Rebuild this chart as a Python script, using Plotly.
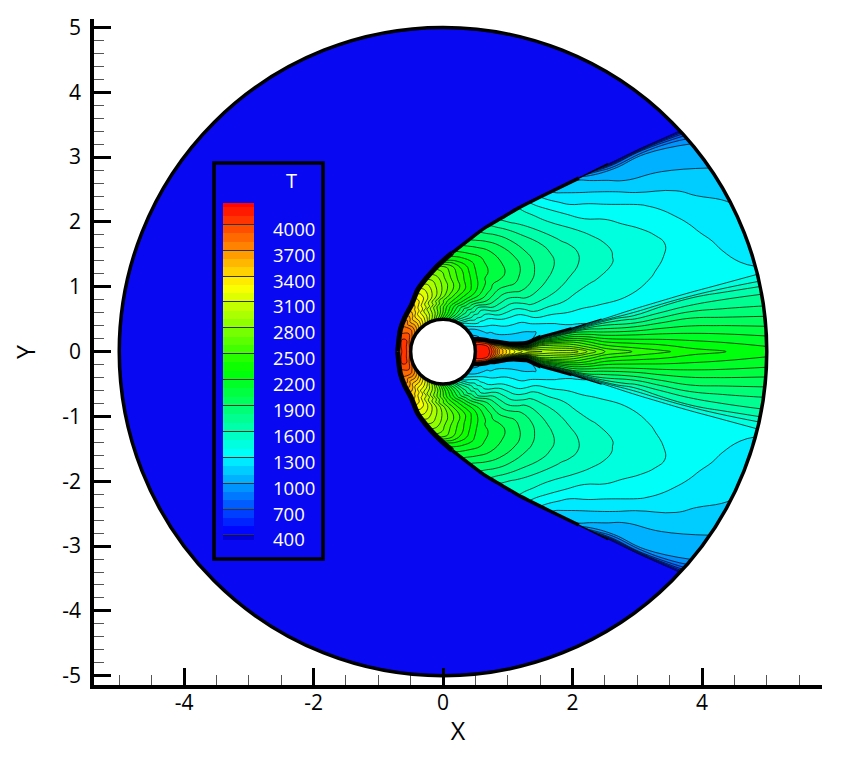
import math
import plotly.graph_objects as go

# Field, upper half, mirrored about the axis.
r_stations = [0.5, 0.6, 0.7, 0.74, 0.79, 0.87, 1.03, 1.15, 1.3, 1.42, 1.53, 1.78, 2.02, 2.25, 2.5, 3.0, 3.4, 3.86, 4.37, 5.0]
theta_wake = [23, 19, 15, 13, 12, 10, 7, 6.2, 6, 7.5, 8.7, 9.6, 10.3, 11, 11.6, 12.5, 13, 13.4, 13.6, 13.8]
theta_bow = [180, 180, 180, 153, 138.6, 124, 112.3, 103.6, 95, 89.2, 84.7, 76.7, 71.2, 66.3, 62.3, 55.7, 51.9, 48.7, 45.9, 43]
core_fracs = [0, 0.2, 0.4, 0.6, 0.8, 0.9, 0.95]
lobe_fracs = [0, 0.02, 0.05, 0.1, 0.2, 0.275, 0.35, 0.425, 0.5, 0.575, 0.65, 0.8, 0.9, 0.95, 0.98, 1]

T_core = [
    [4150, 4140, 4120, 4080, 3950, 3300, 2300],
    [4180, 4160, 4130, 4090, 3900, 3200, 2200],
    [4150, 4130, 4100, 4050, 3800, 3000, 2000],
    [4050, 4030, 4000, 3950, 3600, 2900, 1900],
    [3900, 3880, 3820, 3700, 3200, 2600, 1800],
    [3600, 3600, 3500, 3300, 2900, 2300, 1700],
    [3300, 3300, 3150, 2900, 2400, 1900, 1500],
    [3150, 3100, 2900, 2550, 2100, 1700, 1420],
    [3050, 2950, 2700, 2300, 1850, 1550, 1350],
    [3020, 2900, 2700, 2350, 1930, 1620, 1400],
    [3000, 2850, 2700, 2400, 2000, 1700, 1450],
    [2950, 2780, 2600, 2320, 2000, 1700, 1470],
    [2950, 2700, 2500, 2250, 2000, 1700, 1500],
    [2780, 2550, 2350, 2120, 1900, 1680, 1500],
    [2600, 2400, 2200, 2000, 1800, 1650, 1500],
    [2480, 2290, 2095, 1885, 1670, 1540, 1465],
    [2420, 2240, 2060, 1880, 1680, 1590, 1470],
    [2340, 2190, 2030, 1880, 1690, 1620, 1470],
    [2300, 2150, 1990, 1830, 1680, 1580, 1460],
    [2250, 2100, 1940, 1790, 1660, 1510, 1450],
]
T_lobe = [
    [1100, 1100, 1100, 1150, 1320, 1620, 1950, 2300, 2650, 2950, 3250, 3700, 3800, 3850, 3870, 3880],
    [1100, 1100, 1120, 1200, 1480, 1780, 2100, 2420, 2750, 3030, 3300, 3850, 4030, 4060, 4070, 4070],
    [1150, 1150, 1170, 1260, 1560, 1820, 2100, 2400, 2700, 2980, 3250, 3800, 3980, 3950, 3900, 3880],
    [1150, 1170, 1180, 1230, 1430, 1630, 1850, 2120, 2400, 2680, 2950, 3400, 3700, 3780, 3830, 3850],
    [1150, 1170, 1170, 1220, 1400, 1590, 1800, 2050, 2300, 2500, 2700, 3150, 3450, 3550, 3600, 3620],
    [1200, 1180, 1180, 1230, 1350, 1490, 1650, 1930, 2200, 2400, 2600, 3000, 3250, 3350, 3400, 3400],
    [1200, 1170, 1170, 1230, 1380, 1560, 1750, 1960, 2150, 2340, 2500, 2800, 3000, 3080, 3100, 3100],
    [1200, 1170, 1160, 1225, 1365, 1530, 1700, 1880, 2050, 2200, 2330, 2600, 2800, 2860, 2880, 2880],
    [1200, 1170, 1150, 1220, 1350, 1500, 1650, 1810, 1950, 2060, 2150, 2400, 2580, 2640, 2660, 2650],
    [1230, 1200, 1185, 1260, 1420, 1560, 1700, 1840, 1950, 2040, 2100, 2230, 2280, 2280, 2270, 2270],
    [1250, 1230, 1220, 1300, 1500, 1630, 1750, 1860, 1950, 2010, 2050, 2130, 2130, 2130, 2130, 2130],
    [1250, 1255, 1280, 1340, 1500, 1610, 1700, 1790, 1850, 1900, 1930, 1950, 1930, 1910, 1900, 1900],
    [1250, 1290, 1340, 1380, 1500, 1580, 1650, 1710, 1750, 1780, 1790, 1790, 1770, 1750, 1745, 1740],
    [1300, 1320, 1350, 1390, 1470, 1540, 1600, 1650, 1690, 1700, 1700, 1650, 1610, 1590, 1580, 1570],
    [1350, 1360, 1370, 1400, 1450, 1510, 1560, 1600, 1620, 1615, 1590, 1530, 1510, 1500, 1500, 1500],
    [1400, 1360, 1380, 1400, 1430, 1470, 1495, 1505, 1500, 1475, 1440, 1340, 1260, 1220, 1200, 1190],
    [1400, 1360, 1360, 1380, 1410, 1430, 1440, 1440, 1425, 1400, 1370, 1260, 1160, 1120, 1100, 1080],
    [1400, 1360, 1340, 1345, 1365, 1385, 1395, 1385, 1365, 1330, 1290, 1140, 1050, 1000, 780, 400],
    [1400, 1345, 1325, 1320, 1318, 1312, 1300, 1280, 1250, 1225, 1200, 1100, 1040, 1000, 800, 400],
    [1400, 1330, 1300, 1290, 1265, 1250, 1230, 1210, 1190, 1155, 1120, 1070, 995, 850, 650, 400],
]
legend_labels = [4000, 3700, 3400, 3100, 2800, 2500, 2200, 1900, 1600, 1300, 1000, 700, 400]
x_ticks = [-4, -2, 0, 2, 4]
y_ticks = [-5, -4, -3, -2, -1, 0, 1, 2, 3, 4, 5]

COLORS = [[0, "#0000c8"], [0.02, "#0000ff"], [0.25, "#00ffff"], [0.5, "#00ff00"], [0.75, "#ffff00"], [1, "#ff0000"]]
BG = "#0808f2"
FONT = "Open Sans"

# body-fitted polar grid
thetas, temps = [], []
for i in range(len(r_stations)):
    up_t = [f * theta_wake[i] for f in core_fracs] + [theta_wake[i] + e * (theta_bow[i] - theta_wake[i]) for e in lobe_fracs]
    up_v = T_core[i] + T_lobe[i]
    thetas.append([-t for t in up_t[:0:-1]] + up_t)
    temps.append(up_v[:0:-1] + up_v)
n_b = len(thetas[0])
n_a = len(r_stations)
gx = [[r_stations[i] * math.cos(math.radians(thetas[i][j])) for i in range(n_a)] for j in range(n_b)]
gy = [[r_stations[i] * math.sin(math.radians(thetas[i][j])) for i in range(n_a)] for j in range(n_b)]
gz = [[temps[i][j] for i in range(n_a)] for j in range(n_b)]

fig = go.Figure()
hidden_axis = dict(showgrid=False, showticklabels="none", showline=False, startline=False, endline=False,
                   minorgridcount=0, smoothing=0)
fig.add_trace(go.Carpet(carpet="field", a=list(range(n_a)), b=list(range(n_b)), x=gx, y=gy,
                        aaxis=hidden_axis, baxis=hidden_axis))
fig.add_trace(go.Contourcarpet(carpet="field", a=list(range(n_a)), b=list(range(n_b)), z=gz,
                               autocontour=False,
                               contours=dict(start=400, end=4200, size=100, coloring="fill", showlines=True),
                               line=dict(color="black", width=0.7, smoothing=1.3), colorscale=COLORS, showscale=False))

def polar_line(rs, ts, sign):
    return ([r * math.cos(math.radians(t)) for r, t in zip(rs, ts)],
            [sign * r * math.sin(math.radians(t)) for r, t in zip(rs, ts)])

def band(rs, ts, sign, width):
    bx, by = polar_line(rs, ts, sign)
    fig.add_trace(go.Scatter(x=bx, y=by, mode="lines", line=dict(color="black", width=width, shape="spline", smoothing=0.7),
                             hoverinfo="skip", showlegend=False))

for sign in (1, -1):
    band(r_stations[2:11], theta_bow[2:11], sign, 5)
    band(r_stations[10:17], theta_bow[10:17], sign, 3.5)
    band(r_stations[16:18], theta_bow[16:18], sign, 1.5)
    band(r_stations[0:11], theta_wake[0:11], sign, 4)
    band(r_stations[10:13], theta_wake[10:13], sign, 2.5)
    band(r_stations[12:15], theta_wake[12:15], sign, 1.2)

# legend bar in its own small axes
edges = [342] + list(range(400, 4201, 100)) + [4247]
mids = [(a + b) / 2 for a, b in zip(edges[:-1], edges[1:])]
fig.add_trace(go.Heatmap(x=[0, 1], y=edges, z=[[m] for m in mids], zmin=350, zmax=4250, colorscale=COLORS,
                         showscale=False, xaxis="x2", yaxis="y2", hoverinfo="skip"))

L, B, PW, PH = 94, 685, 728.0, 666.0
annotations = [dict(text=str(v), x=(271 - L) / PW, xref="paper", y=v, yref="y2", xanchor="left", yshift=-4,
                    showarrow=False, font=dict(family=FONT, size=18.5, color="white")) for v in legend_labels]
annotations.append(dict(text="T", x=(291 - L) / PW, xref="paper", y=(B - 181) / PH, yref="paper",
                        xanchor="center", yanchor="middle",
                        showarrow=False, font=dict(family=FONT, size=20, color="white")))

fig.update_layout(
    width=842, height=753, autosize=False,
    margin=dict(l=86, r=28, t=11, b=76, pad=0),
    paper_bgcolor="white", plot_bgcolor="white", showlegend=False,
    font=dict(family=FONT, size=21, color="black"),
    xaxis=dict(range=[-5.39, 5.853], showgrid=False, zeroline=False, showline=True, linecolor="black", linewidth=3.5,
               tickmode="array", tickvals=x_ticks, ticktext=[str(v) for v in x_ticks], ticks="inside", ticklen=17,
               tickwidth=3, tickcolor="black", ticklabelstandoff=-4, automargin="bottom",
               minor=dict(ticks="inside", ticklen=10, tickwidth=1.2, tickcolor="#555555", dtick=0.5, tick0=0),
               title=dict(text="X", font=dict(size=25, family=FONT), standoff=9)),
    yaxis=dict(range=[-5.143, 5.131], showgrid=False, zeroline=False, showline=True, linecolor="black", linewidth=3.5,
               tickmode="array", tickvals=y_ticks, ticktext=[str(v) for v in y_ticks], ticks="inside", ticklen=17,
               tickwidth=3, tickcolor="black", ticklabelstandoff=5, automargin="left",
               minor=dict(ticks="inside", ticklen=10, tickwidth=1.2, tickcolor="#555555", dtick=0.2, tick0=0),
               title=dict(text="Y", font=dict(size=25, family=FONT), standoff=23)),
    xaxis2=dict(domain=[(223 - L) / PW, (254 - L) / PW], range=[0, 1], anchor="y2", visible=False, fixedrange=True),
    yaxis2=dict(domain=[(B - 540) / PH, (B - 203) / PH], range=[342, 4247], anchor="x2", fixedrange=True,
                showgrid=False, zeroline=False, showline=False, showticklabels=False, tickmode="array",
                tickvals=legend_labels, ticks="inside", ticklen=31, tickwidth=1, tickcolor="#333333"),
    shapes=[
        dict(type="circle", xref="x", yref="y", x0=-5, x1=5, y0=-5, y1=5, fillcolor=BG, line=dict(width=0), layer="below"),
        dict(type="rect", xref="x", yref="y", x0=(214 - 443) / 64.75, x1=(323 - 443) / 64.75,
             y0=(351.6 - 559) / 64.82, y1=(351.6 - 163) / 64.82, fillcolor=BG, line=dict(color="black", width=3.5), layer="below"),
        dict(type="circle", xref="x", yref="y", x0=-5, x1=5, y0=-5, y1=5, line=dict(color="black", width=3.5), layer="above"),
        dict(type="circle", xref="x", yref="y", x0=-0.5, x1=0.5, y0=-0.5, y1=0.5, fillcolor="white", line=dict(color="black", width=3.5), layer="above"),
    ],
    annotations=annotations,
)
fig.write_html("out.html")
